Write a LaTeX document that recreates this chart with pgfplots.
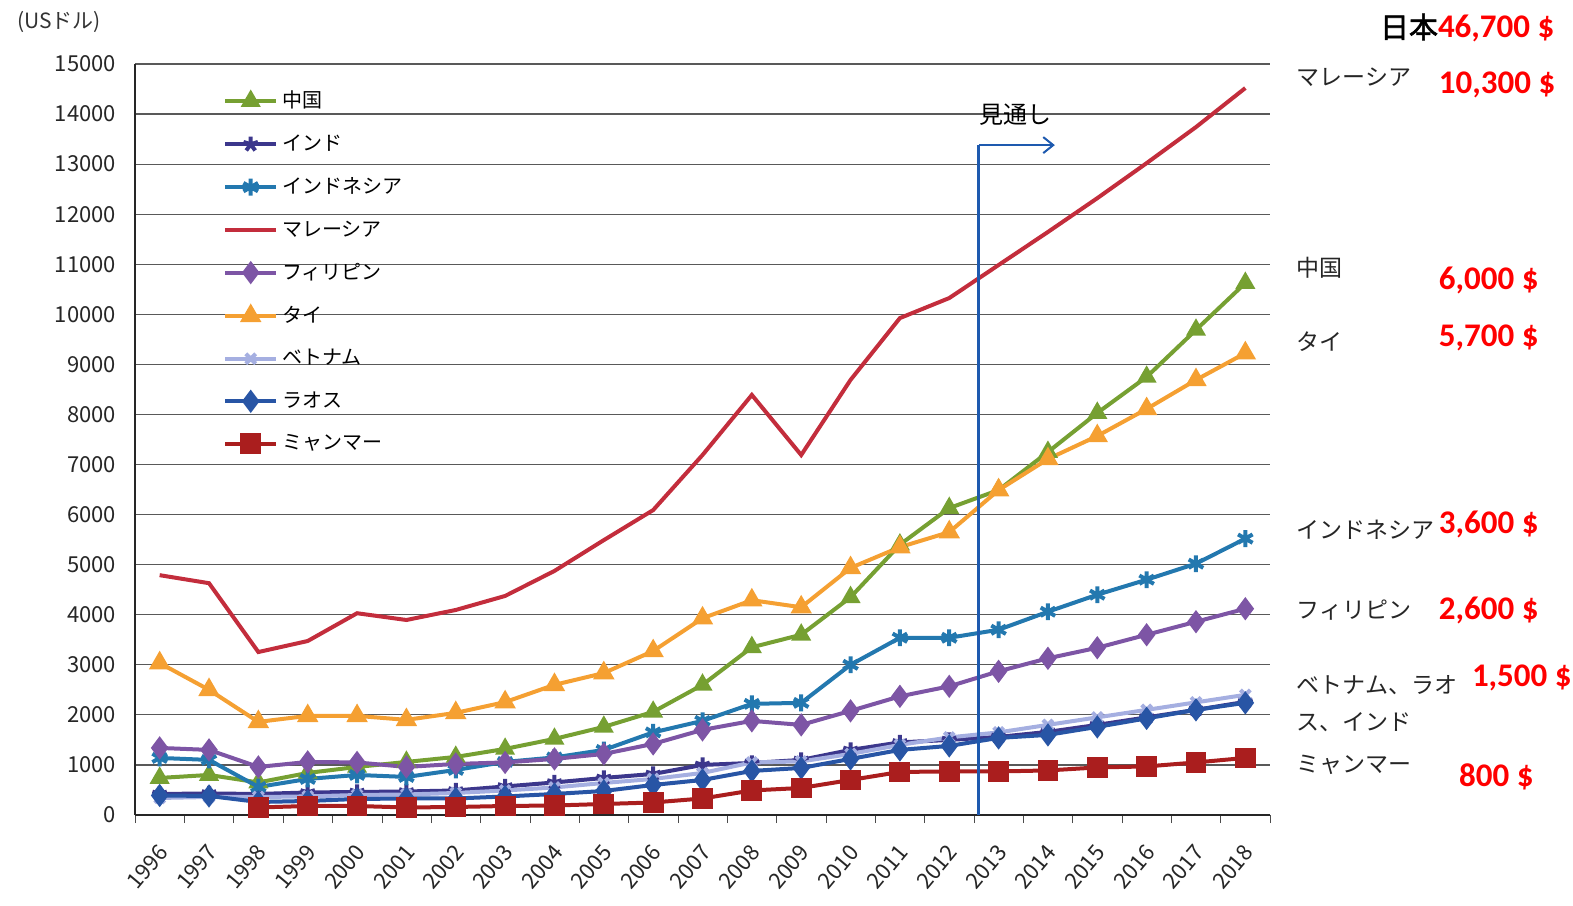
\documentclass[border=0pt]{standalone}
\usepackage{pgfplots}
\pgfplotsset{compat=1.18}
\usepackage{pgfplotstable}
\usetikzlibrary{arrows.meta}
\usepackage{fontspec}
\setmainfont{Noto Sans CJK JP}
\newfontfamily\jpbold[FakeBold=2]{Noto Sans CJK JP}
\newfontfamily\numfont{Carlito}

\definecolor{cChina}{RGB}{118,160,50}
\definecolor{cIndia}{RGB}{60,55,140}
\definecolor{cIndo}{RGB}{35,120,175}
\definecolor{cMalay}{RGB}{195,45,60}
\definecolor{cPhil}{RGB}{125,85,165}
\definecolor{cThai}{RGB}{245,160,50}
\definecolor{cViet}{RGB}{165,175,225}
\definecolor{cLaos}{RGB}{40,85,165}
\definecolor{cMyan}{RGB}{170,30,30}
\definecolor{cArrow}{RGB}{30,90,175}

% GDP per capita (US$)
\pgfplotstableread{
year china india indo malay phil thai viet laos myan
1996 740 420 1140 4790 1340 3035 340 390 nan
1997 800 430 1100 4630 1300 2500 360 380 nan
1998 650 420 560 3255 960 1860 360 260 150
1999 840 450 720 3475 1060 1980 370 280 180
2000 960 460 800 4030 1050 1980 400 320 180
2001 1060 470 760 3895 960 1900 410 330 150
2002 1160 490 900 4095 1020 2040 440 330 160
2003 1320 570 1060 4375 1050 2255 490 370 180
2004 1520 650 1150 4875 1120 2600 550 420 190
2005 1760 740 1300 5490 1220 2835 640 480 220
2006 2060 820 1650 6090 1420 3275 720 600 250
2007 2600 1000 1880 7190 1700 3930 840 700 330
2008 3350 1040 2220 8390 1880 4290 1050 880 490
2009 3600 1100 2240 7190 1800 4150 1070 940 540
2010 4350 1300 3000 8690 2080 4935 1220 1120 700
2011 5400 1450 3540 9925 2370 5350 1400 1300 860
2012 6130 1500 3540 10325 2570 5650 1550 1380 870
2013 6490 1560 3700 10985 2870 6490 1650 1540 870
2014 7250 1660 4060 11645 3130 7110 1800 1600 890
2015 8030 1800 4400 12320 3340 7570 1950 1760 950
2016 8750 1950 4700 13020 3600 8110 2100 1930 970
2017 9690 2100 5020 13740 3860 8690 2250 2100 1050
2018 10625 2260 5520 14520 4120 9225 2400 2240 1140
}\gdp

\begin{document}
\begin{tikzpicture}[x=1pt,y=1pt]
\useasboundingbox (-67.5,-45) rectangle (719,407.5);
\begin{axis}[
    at={(0,0)}, anchor=south west,
    width=567.5pt, height=375.5pt, scale only axis,
    xmin=1995.5, xmax=2018.5,
    ymin=0, ymax=15000,
    scaled y ticks=false,
    clip=false,
    axis lines=left,
    axis line style={-, black!85, line width=0.8pt},
    xtick={1996,...,2018},
    ytick={0,1000,...,15000},
    minor xtick={1995.5,1996.5,...,2018.5},
    major tick length=0pt,
    minor tick length=4pt,
    tick align=outside,
    minor tick style={black!70},
    ymajorgrids=true,
    grid style={black!65, line width=0.6pt},
    /pgf/number format/1000 sep={},
    /pgf/number format/assume math mode=true,
    tick label style={font=\fontsize{11}{11}\selectfont, text=black!85},
    yticklabel style={xshift=-6pt},
    xticklabel style={xshift=4pt, yshift=-14pt, rotate=50, anchor=east},
    legend style={at={(0.072,0.975)}, anchor=north west, draw=none, fill=none,
        font=\fontsize{10}{10}\selectfont, row sep=8pt},
    legend cell align=left,
    legend image code/.code={
        \draw[mark repeat=2, mark phase=2] plot coordinates {(0cm,0cm) (0.45cm,0cm) (0.9cm,0cm)};},
]
\addplot[cChina, line width=2pt, mark=triangle*, mark size=3.8pt] table[x=year, y=china]{\gdp};
\addlegendentry{中国}
\addplot[cIndia, line width=2pt, mark=star, mark size=3.8pt] table[x=year, y=india]{\gdp};
\addlegendentry{インド}
\addplot[cIndo, line width=2pt, mark=asterisk, mark size=4.2pt] table[x=year, y=indo]{\gdp};
\addlegendentry{インドネシア}
\addplot[cMalay, line width=2pt, mark=none] table[x=year, y=malay]{\gdp};
\addlegendentry{マレーシア}
\addplot[cPhil, line width=2pt, mark=diamond*, mark size=4.2pt] table[x=year, y=phil]{\gdp};
\addlegendentry{フィリピン}
\addplot[cThai, line width=2pt, mark=triangle*, mark size=4.2pt] table[x=year, y=thai]{\gdp};
\addlegendentry{タイ}
\addplot[cViet, line width=2pt, mark=x, mark size=3.5pt] table[x=year, y=viet]{\gdp};
\addlegendentry{ベトナム}
\addplot[cLaos, line width=2pt, mark=diamond*, mark size=4.2pt] table[x=year, y=laos]{\gdp};
\addlegendentry{ラオス}
\addplot[cMyan, line width=2pt, mark=square*, mark size=4.2pt] table[x=year, y=myan]{\gdp};
\addlegendentry{ミャンマー}

% forecast marker
\draw[cArrow, line width=1.5pt] (axis cs:2012.6,0) -- (axis cs:2012.6,13380);
\draw[cArrow, line width=1pt, -{Straight Barb[length=5pt, width=8pt]}]
    (axis cs:2012.6,13380) -- (axis cs:2014.14,13380);
\node[font=\fontsize{12}{12}\selectfont] at (axis cs:2013.35,13990) {見通し};

% unit
\node[anchor=west, font=\fontsize{10.5}{10.5}\selectfont, text=black!80] at (axis cs:1992.97,15836) {(USドル)};

% labels on the right
\begin{scope}[every node/.style={anchor=west, font=\fontsize{11.5}{11.5}\selectfont, text=black!85}]
\node at (axis cs:2018.9,14740) {マレーシア};
\node at (axis cs:2018.9,10925) {中国};
\node at (axis cs:2018.9,9446) {タイ};
\node at (axis cs:2018.9,5692) {インドネシア};
\node at (axis cs:2018.9,4094) {フィリピン};
\node at (axis cs:2018.9,2596) {ベトナム、ラオ};
\node at (axis cs:2018.9,1857) {ス、インド};
\node at (axis cs:2018.9,999) {ミャンマー};
\end{scope}
\begin{scope}[every node/.style={anchor=west, text=red, font=\numfont\bfseries\fontsize{16.5}{16.5}\selectfont}]
\node at (axis cs:2021.78,14580) {10,300 \$};
\node at (axis cs:2021.78,10686) {6,000 \$};
\node at (axis cs:2021.78,9527) {5,700 \$};
\node at (axis cs:2021.78,5812) {3,600 \$};
\node at (axis cs:2021.78,4094) {2,600 \$};
\node at (axis cs:2022.45,2736) {1,500 \$};
\node at (axis cs:2022.19,759) {800 \$};
\end{scope}
\node[anchor=east, inner sep=1pt] at (axis cs:2024.31,15719)
    {{\jpbold\fontsize{14.5}{14.5}\selectfont 日本}{\numfont\bfseries\fontsize{16.5}{16.5}\selectfont\color{red}46,700 \$}};
\end{axis}
\end{tikzpicture}
\end{document}
